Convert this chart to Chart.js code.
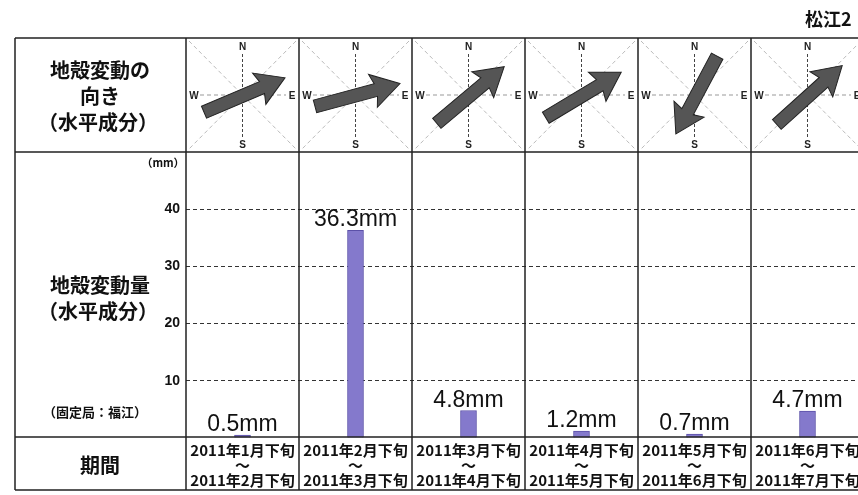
<!DOCTYPE html>
<html>
<head>
<meta charset="utf-8">
<script src="https://cdn.jsdelivr.net/npm/chart.js@4.4.0/dist/chart.umd.min.js"></script>
<style>
  html, body { margin: 0; padding: 0; background: #fff; overflow: hidden; }
  #wrap { width: 858px; height: 495px; overflow: hidden; }
</style>
</head>
<body>
<div id="wrap"><canvas id="chart" width="880" height="495"></canvas></div>
<script>
// 期間ラベル (x軸)
const periods = [
  ["2011年1月下旬", "～", "2011年2月下旬"],
  ["2011年2月下旬", "～", "2011年3月下旬"],
  ["2011年3月下旬", "～", "2011年4月下旬"],
  ["2011年4月下旬", "～", "2011年5月下旬"],
  ["2011年5月下旬", "～", "2011年6月下旬"],
  ["2011年6月下旬", "～", "2011年7月下旬"]
];
// 地殻変動量 (mm)
const displacement = [0.5, 36.3, 4.8, 1.2, 0.7, 4.7];
// 変動の向き (東=0度, 反時計回り)
const directionDeg = [23, 15, 40, 31, 242, 42];
// y軸目盛
const yTicks = [10, 20, 30, 40];

const TABLE_LEFT = 15;
const TABLE_TOP = 38;
const ROW1_BOTTOM = 152;
const ROW2_BOTTOM = 437;
const TABLE_BOTTOM = 490;
const JP = '"Noto Sans CJK JP", sans-serif';

function colBounds(chart, i) {
  const x = chart.scales.x;
  const w = (x.right - x.left) / periods.length;
  return { left: x.left + w * i, right: x.left + w * (i + 1), center: x.left + w * (i + 0.5) };
}

function drawArrow(ctx, cx, cy, deg) {
  const a = -deg * Math.PI / 180;
  ctx.save();
  ctx.translate(cx, cy);
  ctx.rotate(a);
  ctx.beginPath();
  ctx.moveTo(-44, -6.5);
  ctx.lineTo(19, -6.5);
  ctx.lineTo(16, -17);
  ctx.lineTo(44, 0);
  ctx.lineTo(16, 17);
  ctx.lineTo(19, 6.5);
  ctx.lineTo(-44, 6.5);
  ctx.closePath();
  ctx.fillStyle = "#555";
  ctx.fill();
  ctx.strokeStyle = "#222";
  ctx.lineWidth = 1;
  ctx.stroke();
  ctx.restore();
}

function drawCompass(ctx, b) {
  const cy = (TABLE_TOP + ROW1_BOTTOM) / 2;
  ctx.save();
  ctx.lineWidth = 1;
  // 対角線
  ctx.strokeStyle = "#bbb";
  ctx.setLineDash([4, 3]);
  ctx.beginPath();
  ctx.moveTo(b.left + 3, TABLE_TOP + 3);
  ctx.lineTo(b.right - 3, ROW1_BOTTOM - 3);
  ctx.moveTo(b.right - 3, TABLE_TOP + 3);
  ctx.lineTo(b.left + 3, ROW1_BOTTOM - 3);
  ctx.stroke();
  // 東西
  ctx.strokeStyle = "#999";
  ctx.beginPath();
  ctx.moveTo(b.left + 14, cy);
  ctx.lineTo(b.right - 13, cy);
  ctx.stroke();
  // 南北
  ctx.strokeStyle = "#444";
  ctx.setLineDash([3, 2]);
  ctx.beginPath();
  ctx.moveTo(b.center, TABLE_TOP + 16);
  ctx.lineTo(b.center, ROW1_BOTTOM - 15);
  ctx.stroke();
  ctx.setLineDash([]);
  ctx.fillStyle = "#222";
  ctx.font = "bold 10px Arial";
  ctx.textAlign = "center";
  ctx.textBaseline = "middle";
  ctx.fillText("N", b.center, TABLE_TOP + 9);
  ctx.fillText("S", b.center, ROW1_BOTTOM - 7);
  ctx.fillText("W", b.left + 8, cy + 1);
  ctx.fillText("E", b.right - 7, cy + 1);
  ctx.restore();
}

const tablePlugin = {
  id: "tablePlugin",
  beforeDraw(chart) {
    const ctx = chart.ctx;
    ctx.save();
    ctx.fillStyle = "#fff";
    ctx.fillRect(0, 0, chart.width, chart.height);
    ctx.restore();
  },
  afterDraw(chart) {
    const ctx = chart.ctx;
    const area = chart.chartArea;
    const right = area.right;

    // コンパスと矢印
    periods.forEach((p, i) => {
      const b = colBounds(chart, i);
      drawCompass(ctx, b);
      drawArrow(ctx, b.center + 2, (TABLE_TOP + ROW1_BOTTOM) / 2, directionDeg[i]);
    });

    // 値ラベル
    const meta = chart.getDatasetMeta(0);
    ctx.save();
    ctx.fillStyle = "#111";
    ctx.font = "23px Arial";
    ctx.textAlign = "center";
    ctx.textBaseline = "alphabetic";
    meta.data.forEach((bar, i) => {
      ctx.fillText(displacement[i].toFixed(1) + "mm", bar.x, bar.y - 4);
    });
    ctx.restore();

    // 罫線
    ctx.save();
    ctx.strokeStyle = "#222";
    ctx.lineWidth = 1.5;
    ctx.beginPath();
    [TABLE_TOP, ROW1_BOTTOM, ROW2_BOTTOM, TABLE_BOTTOM].forEach((y) => {
      ctx.moveTo(TABLE_LEFT, y);
      ctx.lineTo(right, y);
    });
    ctx.moveTo(TABLE_LEFT, TABLE_TOP);
    ctx.lineTo(TABLE_LEFT, TABLE_BOTTOM);
    for (let i = 0; i <= periods.length; i++) {
      const xx = area.left + (right - area.left) / periods.length * i;
      ctx.moveTo(xx, TABLE_TOP);
      ctx.lineTo(xx, TABLE_BOTTOM);
    }
    ctx.stroke();
    ctx.restore();

    // 左列のラベル
    ctx.save();
    ctx.fillStyle = "#111";
    ctx.textAlign = "center";
    ctx.textBaseline = "middle";
    ctx.font = "bold 20px " + JP;
    ctx.fillText("地殻変動の", 100, 70);
    ctx.fillText("向き", 100, 96);
    ctx.fillText("（水平成分）", 98, 122);
    ctx.fillText("地殻変動量", 100, 285);
    ctx.fillText("（水平成分）", 98, 311);
    ctx.fillText("期間", 100, 465);
    ctx.font = "bold 13px " + JP;
    ctx.fillText("（固定局：福江）", 95, 412);
    ctx.font = "bold 11px " + JP;
    ctx.fillText("（mm）", 163, 163);
    ctx.font = "bold 18px " + JP;
    ctx.textAlign = "left";
    ctx.fillText("松江2", 805, 19);
    ctx.restore();
  }
};

const ctx = document.getElementById("chart").getContext("2d");
new Chart(ctx, {
  type: "bar",
  data: {
    labels: periods,
    datasets: [
      {
        label: "地殻変動量",
        data: displacement,
        backgroundColor: "#8479cc",
        borderColor: "#5b50a8",
        borderWidth: 1,
        barThickness: 16
      }
    ]
  },
  options: {
    responsive: false,
    animation: false,
    devicePixelRatio: 1,
    layout: { padding: { top: ROW1_BOTTOM, right: 16, left: 0, bottom: 0 } },
    plugins: {
      legend: { display: false },
      tooltip: { enabled: false },
      title: { display: false }
    },
    scales: {
      x: {
        afterFit: (scale) => { scale.height = 57; },
        grid: { display: false, drawTicks: false },
        border: { display: false },
        ticks: {
          color: "#111",
          padding: 5,
          maxRotation: 0,
          autoSkip: false,
          font: { size: 15, weight: "bold", family: JP, lineHeight: 1.0 }
        }
      },
      y: {
        min: 0,
        max: 50,
        afterFit: (scale) => { scale.width = 186; },
        afterBuildTicks: (scale) => {
          scale.ticks = [0].concat(yTicks, [50]).map((v) => ({ value: v }));
        },
        border: { display: false, dash: [4, 3] },
        grid: {
          drawTicks: false,
          color: (c) => (yTicks.includes(c.tick && c.tick.value) ? "#333" : "rgba(0,0,0,0)"),
          lineWidth: 1
        },
        ticks: {
          color: "#111",
          padding: 6,
          font: { size: 14, weight: "bold", family: "Arial" },
          callback: (v) => (yTicks.includes(v) ? String(v) : "")
        }
      }
    }
  },
  plugins: [tablePlugin]
});
</script>
</body>
</html>
